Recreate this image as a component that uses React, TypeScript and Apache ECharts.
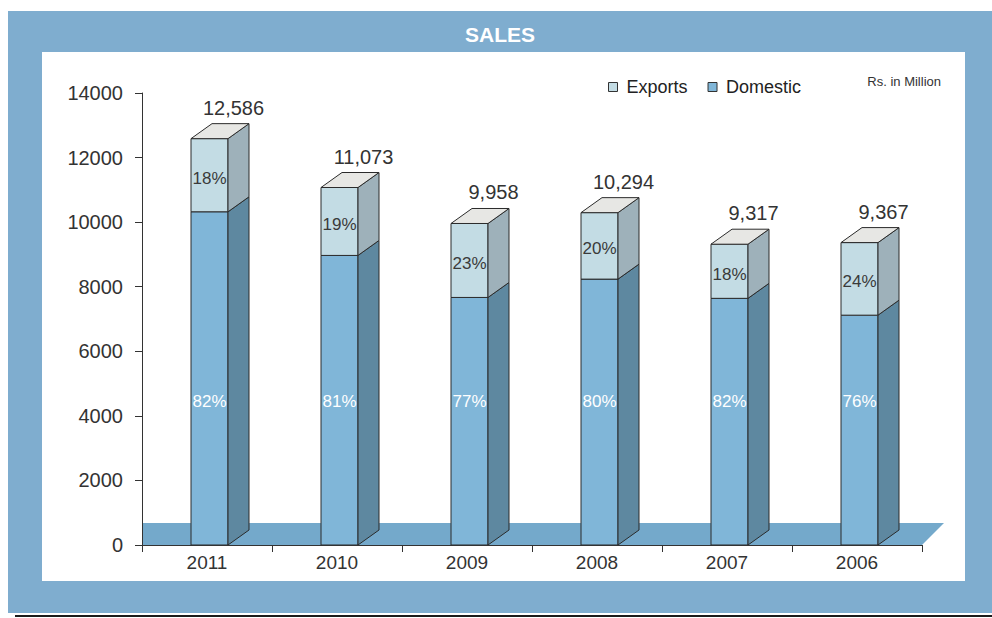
import React, { useEffect, useRef } from "react";
import * as echarts from "echarts";

const categories = ["2011", "2010", "2009", "2008", "2007", "2006"];
const totals = [12586, 11073, 9958, 10294, 9317, 9367];
const domesticPct = [82, 81, 77, 80, 82, 76];
const exportPct = [18, 19, 23, 20, 18, 24];
const yTicks = { min: 0, max: 14000, interval: 2000 };
const domesticLabelValue = 4450;

const FONT = "'Liberation Sans', Arial, Helvetica, sans-serif";
const EDGE = "#2b2b2b";
const C = {
  frame: "#7fadcf",
  floor: "#74a9cb",
  domFront: "#80b6d8",
  domSide: "#5e88a0",
  expFront: "#c3dce4",
  expSide: "#9eb1ba",
  top: "#e7e7e4",
  text: "#333333",
};
const FRONT_OFF = -16; // front face left edge relative to category center
const FRONT_W = 37;
const DX = 21;
const DY = -15;

export default function App() {
  const ref = useRef<HTMLDivElement>(null);
  useEffect(() => {
    if (!ref.current) return;
    const chart = echarts.init(ref.current, undefined, { renderer: "svg" });

    const domData = categories.map((_, i) => [i, (totals[i] * domesticPct[i]) / 100, domesticPct[i]]);
    const expData = categories.map((_, i) => [i, (totals[i] * domesticPct[i]) / 100, totals[i], exportPct[i]]);

    const box = (x: number, yTop: number, yBot: number, front: string, side: string) => [
      {
        type: "rect",
        shape: { x, y: yTop, width: FRONT_W, height: yBot - yTop },
        style: { fill: front, stroke: EDGE, lineWidth: 1 },
      },
      {
        type: "polygon",
        shape: {
          points: [
            [x + FRONT_W, yBot],
            [x + FRONT_W + DX, yBot + DY],
            [x + FRONT_W + DX, yTop + DY],
            [x + FRONT_W, yTop],
          ],
        },
        style: { fill: side, stroke: EDGE, lineWidth: 1 },
      },
    ];

    const option: any = {
      animation: false,
      backgroundColor: "#ffffff",
      graphic: {
        elements: [
          { type: "rect", z: -20, shape: { x: 8, y: 11, width: 984, height: 602 }, style: { fill: C.frame } },
          { type: "rect", z: -19, shape: { x: 42, y: 52, width: 923, height: 529 }, style: { fill: "#ffffff" } },
          { type: "rect", z: -19, shape: { x: 15, y: 615, width: 977, height: 2 }, style: { fill: "#1a1a1a" } },
          {
            type: "text",
            x: 500,
            y: 34,
            style: { text: "SALES", fill: "#ffffff", font: `bold 21px ${FONT}`, align: "center", verticalAlign: "middle" },
          },
          {
            type: "text",
            x: 941,
            y: 81,
            style: { text: "Rs. in Million", fill: C.text, font: `13px ${FONT}`, align: "right", verticalAlign: "middle" },
          },
        ],
      },
      legend: {
        left: 603,
        top: 73,
        icon: "rect",
        itemWidth: 9,
        itemHeight: 9,
        itemGap: 20,
        textStyle: { color: "#222", fontSize: 18, fontFamily: FONT, padding: [0, 0, 0, 4] },
        data: [
          { name: "Exports", itemStyle: { color: C.expFront, borderColor: "#333", borderWidth: 1 } },
          { name: "Domestic", itemStyle: { color: C.domFront, borderColor: "#333", borderWidth: 1 } },
        ],
      },
      grid: { left: 142, right: 70, top: 93, bottom: 73, containLabel: false },
      xAxis: {
        type: "category",
        data: categories,
        boundaryGap: true,
        z: 10,
        axisLine: { show: true, lineStyle: { color: "#333", width: 1 } },
        axisTick: { show: true, length: 7, lineStyle: { color: "#333" } },
        axisLabel: { color: C.text, fontSize: 19, fontFamily: FONT, margin: 8 },
      },
      yAxis: {
        type: "value",
        min: yTicks.min,
        max: yTicks.max,
        interval: yTicks.interval,
        z: 10,
        splitLine: { show: false },
        axisLine: { show: true, lineStyle: { color: "#333", width: 1 } },
        axisTick: { show: true, length: 7, lineStyle: { color: "#333" } },
        axisLabel: { color: C.text, fontSize: 20, fontFamily: FONT, margin: 19, formatter: (v: number) => String(v) },
      },
      series: [
        {
          type: "custom",
          name: "floor",
          z: 1,
          silent: true,
          data: [[0, 0]],
          renderItem: (params: any, api: any) => {
            const cs = params.coordSys;
            const y0 = api.coord([0, 0])[1];
            const x0 = cs.x;
            const x1 = cs.x + cs.width;
            return {
              type: "polygon",
              shape: { points: [[x0, y0], [x1, y0], [x1 + 22, y0 - 22], [x0, y0 - 22]] },
              style: { fill: C.floor },
            };
          },
        },
        {
          type: "custom",
          name: "Domestic",
          z: 3,
          itemStyle: { color: C.domFront },
          data: domData,
          encode: { x: 0, y: 1 },
          renderItem: (params: any, api: any) => {
            const i = api.value(0);
            const dom = api.value(1);
            const pct = api.value(2);
            const base = api.coord([i, 0]);
            const cx = base[0];
            const yBot = base[1];
            const yTop = api.coord([i, dom])[1];
            const x = cx + FRONT_OFF;
            const yLab = api.coord([i, domesticLabelValue])[1];
            return {
              type: "group",
              children: [
                ...box(x, yTop, yBot, C.domFront, C.domSide),
                {
                  type: "text",
                  x: x + FRONT_W / 2,
                  y: yLab,
                  style: { text: pct + "%", fill: "#ffffff", font: `17px ${FONT}`, align: "center", verticalAlign: "middle" },
                },
              ],
            };
          },
        },
        {
          type: "custom",
          name: "Exports",
          z: 4,
          itemStyle: { color: C.expFront },
          data: expData,
          encode: { x: 0, y: 2 },
          renderItem: (params: any, api: any) => {
            const i = api.value(0);
            const dom = api.value(1);
            const total = api.value(2);
            const pct = api.value(3);
            const cx = api.coord([i, 0])[0];
            const yBot = api.coord([i, dom])[1];
            const yTop = api.coord([i, total])[1];
            const x = cx + FRONT_OFF;
            return {
              type: "group",
              children: [
                ...box(x, yTop, yBot, C.expFront, C.expSide),
                {
                  type: "polygon",
                  shape: {
                    points: [
                      [x, yTop],
                      [x + FRONT_W, yTop],
                      [x + FRONT_W + DX, yTop + DY],
                      [x + DX, yTop + DY],
                    ],
                  },
                  style: { fill: C.top, stroke: EDGE, lineWidth: 1 },
                },
                {
                  type: "text",
                  x: x + FRONT_W / 2,
                  y: (yTop + yBot) / 2 + 3,
                  style: { text: pct + "%", fill: "#3a3a3a", font: `17px ${FONT}`, align: "center", verticalAlign: "middle" },
                },
                {
                  type: "text",
                  x: x + FRONT_W / 2 + 24,
                  y: yTop - 31,
                  style: {
                    text: Number(total).toLocaleString("en-US"),
                    fill: C.text,
                    font: `20px ${FONT}`,
                    align: "center",
                    verticalAlign: "middle",
                  },
                },
              ],
            };
          },
        },
      ],
    };
    chart.setOption(option);
    return () => chart.dispose();
  }, []);
  return <div ref={ref} style={{ position: "fixed", left: 0, top: 0, width: 992, height: 618 }} />;
}
